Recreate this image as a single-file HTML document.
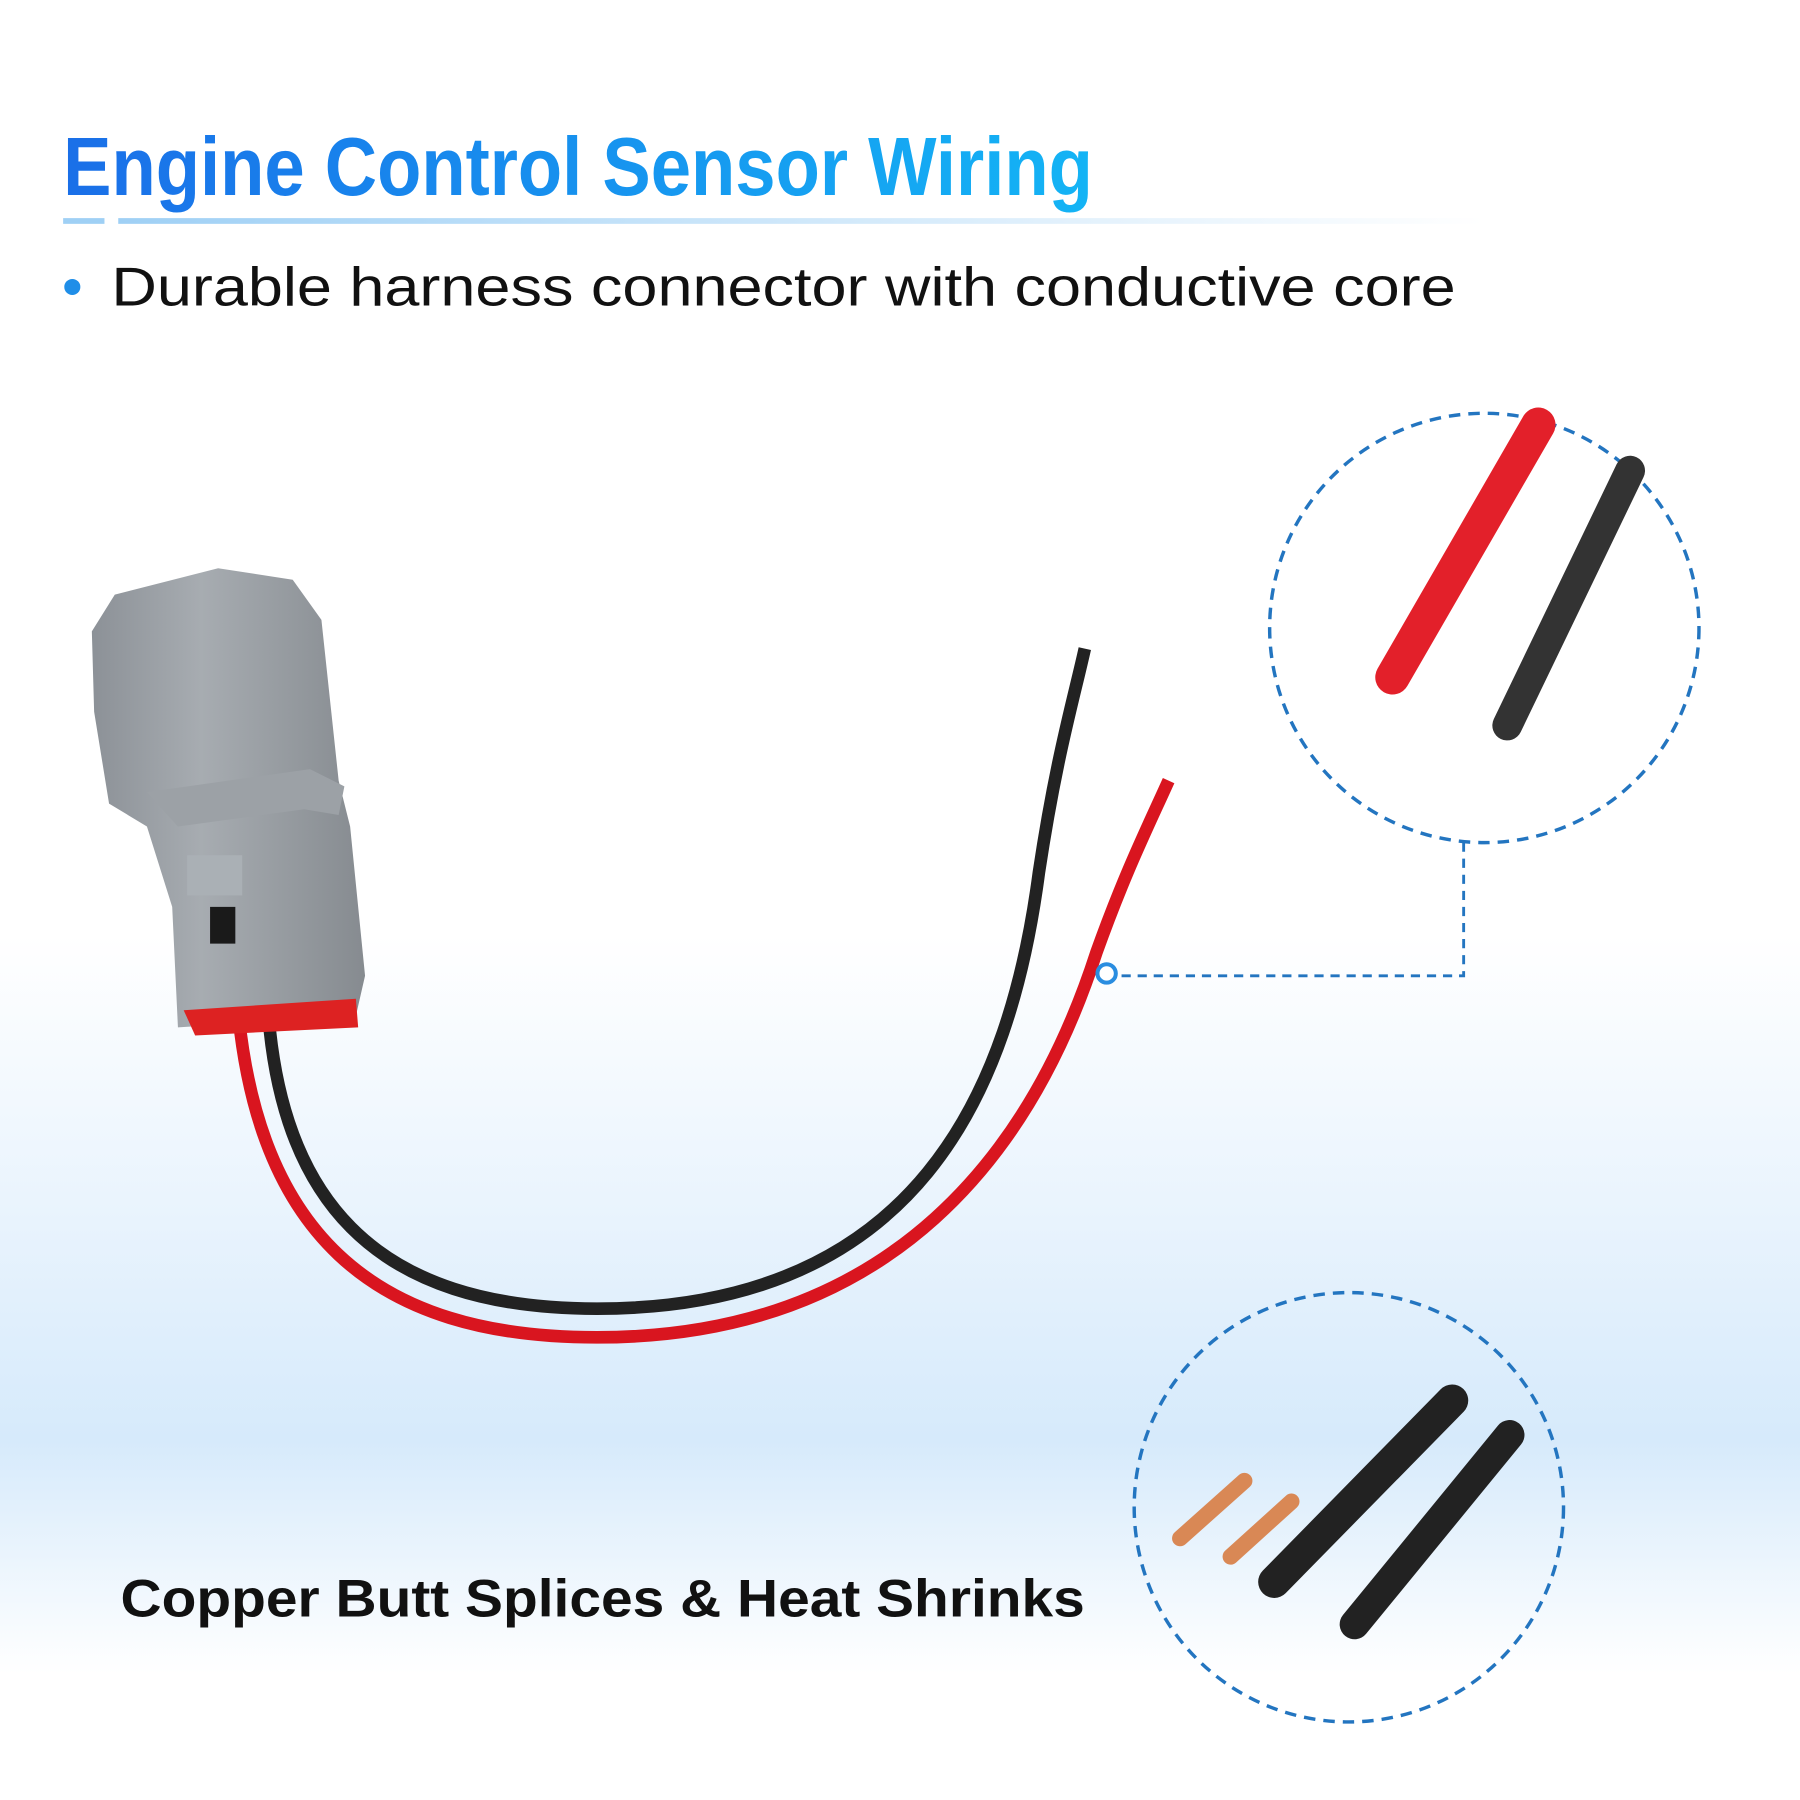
<!DOCTYPE html>
<html><head><meta charset="utf-8"><style>
html,body{margin:0;padding:0;width:1800px;height:1800px;overflow:hidden;background:#fff}
svg{display:block}
</style></head><body>
<svg width="1800" height="1800" viewBox="0 0 1568 1568" xmlns="http://www.w3.org/2000/svg">
<defs>
<linearGradient id="bg" x1="0" y1="0" x2="0" y2="1">
<stop offset="0.52" stop-color="#ffffff"/>
<stop offset="0.68" stop-color="#e8f3fd"/>
<stop offset="0.8" stop-color="#d6eafb"/>
<stop offset="0.93" stop-color="#ffffff"/>
</linearGradient>
<linearGradient id="tg" x1="0" y1="0" x2="1" y2="0">
<stop offset="0" stop-color="#1a6fe8"/>
<stop offset="1" stop-color="#14b4f5"/>
</linearGradient>
<linearGradient id="lg" x1="0" y1="0" x2="1" y2="0">
<stop offset="0" stop-color="#9fd0f5"/>
<stop offset="1" stop-color="#ffffff"/>
</linearGradient>
<linearGradient id="gray" x1="0" y1="0" x2="1" y2="0">
<stop offset="0" stop-color="#8c9197"/>
<stop offset="0.4" stop-color="#a7acb1"/>
<stop offset="1" stop-color="#868b90"/>
</linearGradient>
</defs>
<rect width="1568" height="1568" fill="url(#bg)"/>
<text x="55" y="170" font-family="Liberation Sans Narrow, Liberation Sans, sans-serif" font-weight="bold" font-size="72" fill="url(#tg)" textLength="897" lengthAdjust="spacingAndGlyphs">Engine Control Sensor Wiring</text>
<rect x="55" y="190" width="36" height="5" fill="#9fd0f5"/>
<rect x="103" y="190" width="1190" height="5" fill="url(#lg)"/>
<circle cx="63" cy="250" r="7" fill="#1f8ee8"/>
<text x="97" y="266" font-family="Liberation Sans, sans-serif" font-size="48" fill="#111" textLength="1171" lengthAdjust="spacingAndGlyphs">Durable harness connector with conductive core</text>

<!-- wires -->
<path d="M232 845 C235 1050 330 1140 520 1140 C800 1140 880 950 905 760 C920 660 935 610 945 565" fill="none" stroke="#222" stroke-width="11"/>
<path d="M205 845 C215 1080 330 1165 520 1165 C780 1165 900 1000 955 830 C980 760 1000 720 1018 680" fill="none" stroke="#d9151f" stroke-width="11"/>

<!-- connector -->
<path d="M80 550 L100 518 L190 495 L255 505 L280 540 L295 680 L305 720 L318 850 L310 885 L155 895 L150 790 L128 720 L95 700 L82 620 Z" fill="url(#gray)"/>
<path d="M128 690 L270 670 L300 685 L295 710 L265 705 L155 720 Z" fill="#9ca1a6"/>
<rect x="163" y="745" width="48" height="35" fill="#aab0b5"/>
<rect x="183" y="790" width="22" height="32" fill="#1a1a1a"/>
<path d="M160 880 L310 870 L312 895 L170 902 Z" fill="#d22"/>

<!-- zoom circle 1 -->
<circle cx="1293" cy="547" r="187" fill="none" stroke="#2375c0" stroke-width="3" stroke-dasharray="10 7"/>
<path d="M1340 370 L1213 590" stroke="#e3202a" stroke-width="30" stroke-linecap="round"/>
<path d="M1420 410 L1313 632" stroke="#333" stroke-width="26" stroke-linecap="round"/>
<path d="M1275 734 L1275 850 L970 850" fill="none" stroke="#2375c0" stroke-width="2.5" stroke-dasharray="8 6"/>
<circle cx="964" cy="848" r="8" fill="#fff" stroke="#2a8de0" stroke-width="3.5"/>

<!-- zoom circle 2 -->
<circle cx="1175" cy="1313" r="187" fill="none" stroke="#2375c0" stroke-width="3" stroke-dasharray="10 7"/>
<path d="M1028 1340 L1084 1290" stroke="#d98855" stroke-width="14" stroke-linecap="round"/>
<path d="M1072 1356 L1125 1308" stroke="#d98855" stroke-width="14" stroke-linecap="round"/>
<path d="M1110 1378 L1265 1220" stroke="#222" stroke-width="28" stroke-linecap="round"/>
<path d="M1180 1415 L1315 1250" stroke="#222" stroke-width="26" stroke-linecap="round"/>

<text x="105" y="1408" font-family="Liberation Sans, sans-serif" font-weight="bold" font-size="46" fill="#111" textLength="840" lengthAdjust="spacingAndGlyphs">Copper Butt Splices &amp; Heat Shrinks</text>
</svg>
</body></html>
